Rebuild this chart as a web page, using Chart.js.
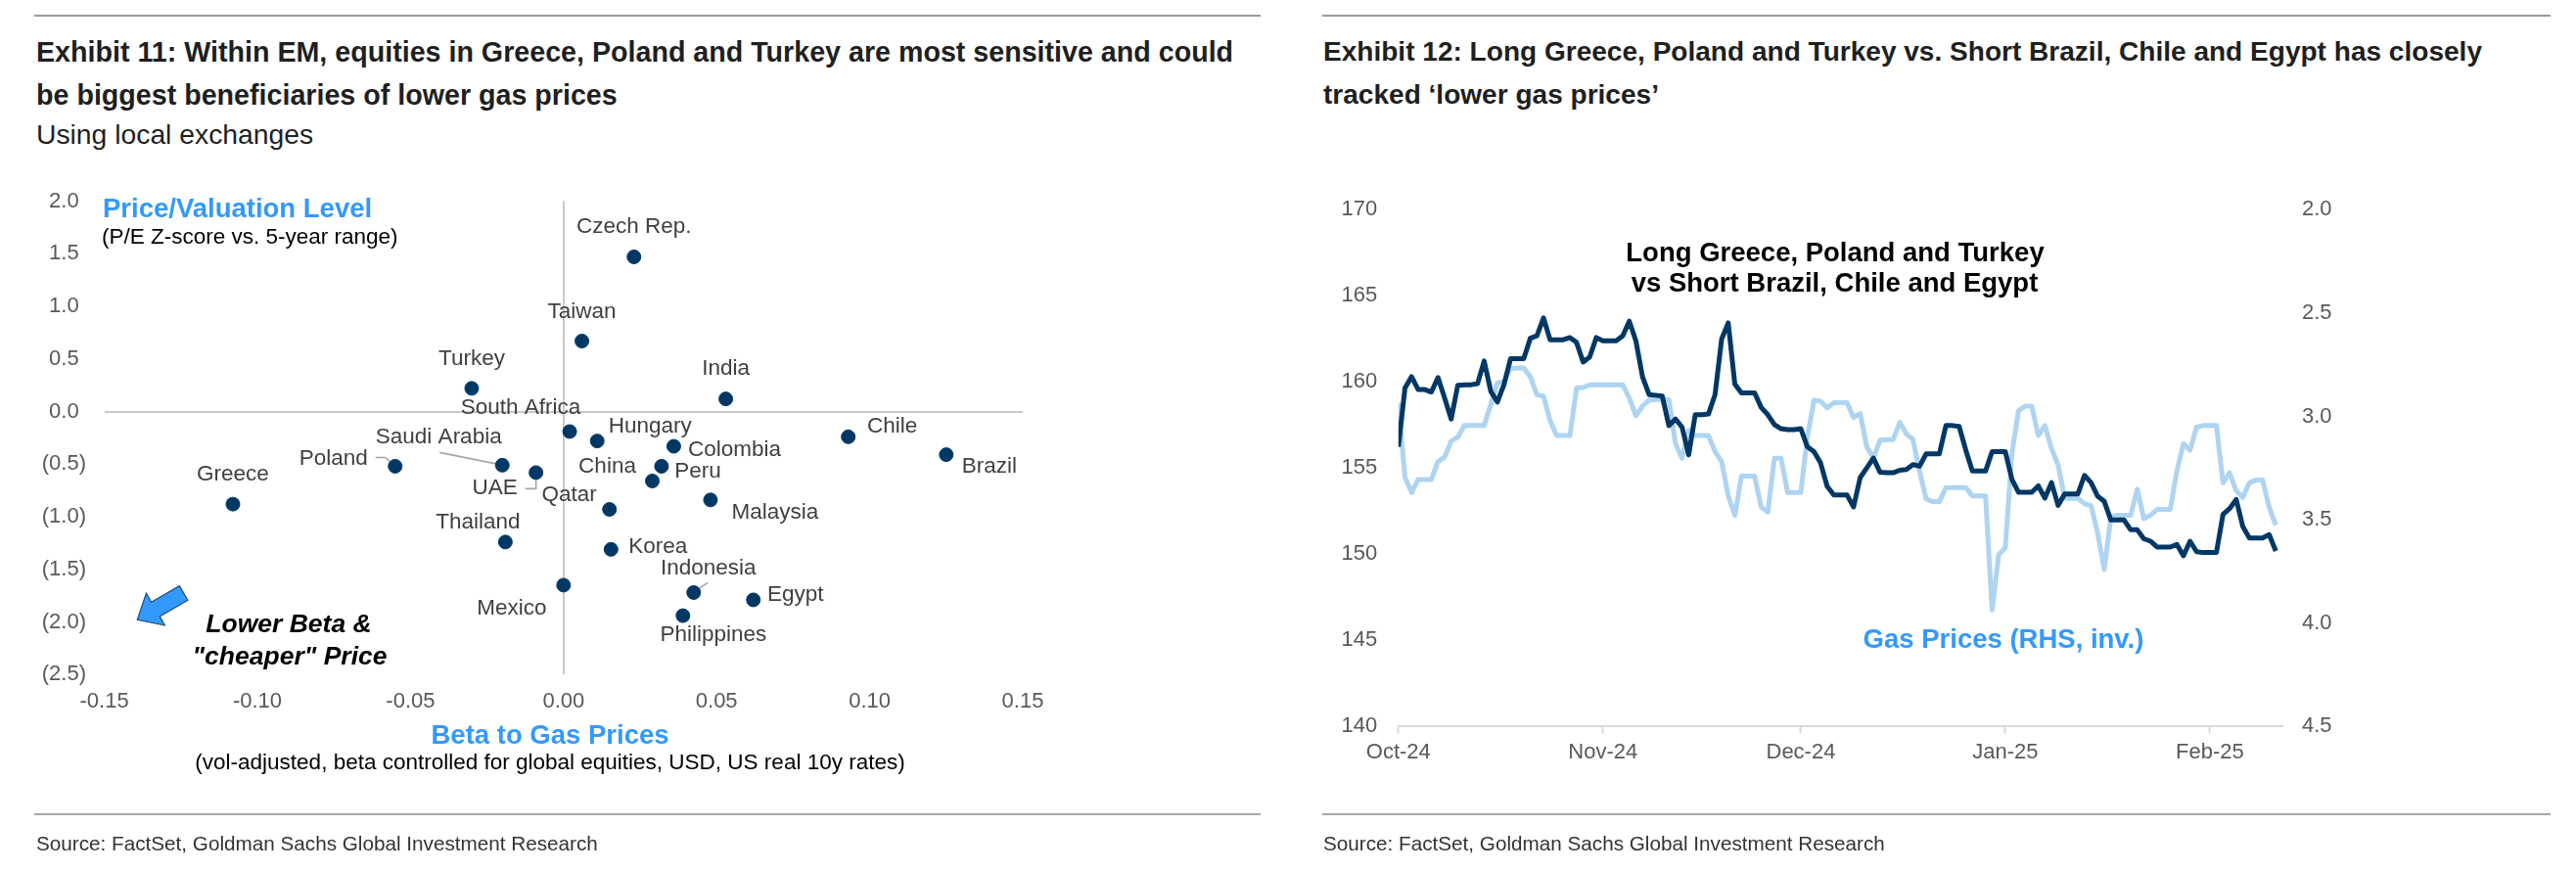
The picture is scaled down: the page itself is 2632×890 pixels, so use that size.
<!DOCTYPE html>
<html><head><meta charset="utf-8">
<script src="https://cdn.jsdelivr.net/npm/chart.js@4.4.1/dist/chart.umd.min.js"></script>
<style>
html,body{margin:0;padding:0;background:#fff;}
body{width:2632px;height:890px;position:relative;overflow:hidden;font-family:"Liberation Sans",Arial,sans-serif;}
.rule{position:absolute;height:2px;background:#9a9a9a;}
.title{position:absolute;font-weight:bold;font-size:28.3px;line-height:44px;color:#1f1f1f;white-space:nowrap;}
.sub{position:absolute;font-size:28px;line-height:36px;color:#1f1f1f;white-space:nowrap;}
.src{position:absolute;font-size:20.7px;line-height:30px;color:#333;white-space:nowrap;}
canvas{position:absolute;top:0;}
</style></head><body>
<div class="rule" style="left:35px;top:15px;width:1253px;"></div>
<div class="rule" style="left:1351px;top:15px;width:1255px;"></div>
<div class="title" style="left:37px;top:31px;font-size:28.65px;">Exhibit 11: Within EM, equities in Greece, Poland and Turkey are most sensitive and could<br>be biggest beneficiaries of lower gas prices</div>
<div class="sub" style="left:37px;top:119px;font-size:28.3px;">Using local exchanges</div>
<div class="title" style="left:1352px;top:31px;font-size:28.05px;">Exhibit 12: Long Greece, Poland and Turkey vs. Short Brazil, Chile and Egypt has closely<br>tracked ‘lower gas prices’</div>
<canvas id="c1" width="1316" height="890" style="left:0;width:1316px;height:890px;"></canvas>
<canvas id="c2" width="1316" height="890" style="left:1316px;width:1316px;height:890px;"></canvas>
<div class="rule" style="left:35px;top:831px;width:1253px;background:#a8a8a8;"></div>
<div class="rule" style="left:1351px;top:831px;width:1255px;background:#a8a8a8;"></div>
<div class="src" style="left:37px;top:847px;">Source: FactSet, Goldman Sachs Global Investment Research</div>
<div class="src" style="left:1352px;top:847px;">Source: FactSet, Goldman Sachs Global Investment Research</div>
<script>
// ---------- Exhibit 11 data ----------
const countries = ['Czech Rep.','Taiwan','Turkey','India','Greece','South Africa','Hungary','China','Colombia','Peru','Chile','Brazil','Malaysia','Qatar','Thailand','Korea','Mexico','Philippines','Egypt','Indonesia','Saudi Arabia','Poland','UAE'];
const betaToGas = [0.023,0.006,-0.030,0.053,-0.108,0.002,0.011,0.029,0.036,0.032,0.093,0.125,0.048,0.015,-0.019,0.0155,0.000,0.039,0.062,0.0425,-0.020,-0.055,-0.009];
const peZScore = [1.47,0.67,0.22,0.12,-0.88,-0.19,-0.28,-0.66,-0.33,-0.52,-0.24,-0.41,-0.84,-0.93,-1.24,-1.31,-1.65,-1.94,-1.79,-1.72,-0.51,-0.52,-0.58];
const scatterXTicks = [-0.15,-0.10,-0.05,0,0.05,0.10,0.15];
const scatterXTickLabels = ['-0.15','-0.10','-0.05','0.00','0.05','0.10','0.15'];
const scatterYTicks = [-2.5,-2,-1.5,-1,-0.5,0,0.5,1,1.5,2];
const scatterYTickLabels = ['(2.5)','(2.0)','(1.5)','(1.0)','(0.5)','0.0','0.5','1.0','1.5','2.0'];

// ---------- Exhibit 12 data (daily, day 0 = 1 Oct 2024) ----------
const seriesStartDate = '2024-10-01';
const longShortBasket = [156.24,159.65,160.31,159.56,159.56,159.42,160.26,159.08,157.85,159.80,
159.84,159.84,159.90,161.22,159.46,158.84,159.84,161.35,161.35,161.35,
162.54,162.68,163.72,162.45,162.45,162.45,162.58,162.30,161.16,161.45,
162.58,162.39,162.39,162.39,162.68,163.53,162.39,160.31,159.27,159.23,
159.18,157.47,157.85,157.38,155.77,158.10,158.10,158.14,159.27,162.49,
163.43,159.88,159.37,159.37,159.37,158.52,158.10,157.53,157.29,157.23,
157.23,157.29,156.24,155.96,155.30,153.94,153.44,153.44,153.44,152.75,
154.45,155.01,155.58,154.77,154.73,154.73,154.88,154.92,155.21,155.11,
155.83,155.83,155.83,157.47,157.47,157.42,156.06,154.83,154.83,154.83,
155.96,155.96,155.96,154.35,153.60,153.60,153.60,153.97,153.26,154.16,
152.84,153.50,153.50,153.50,154.58,154.16,153.37,153.07,151.99,151.99,
151.99,151.42,151.42,150.90,150.76,150.42,150.42,150.42,150.57,149.91,
150.76,150.15,150.10,150.10,150.10,152.31,152.65,153.18,151.61,150.95,
150.95,150.95,151.14,150.19];
const gasPrices = [2.934,3.294,3.368,3.305,3.305,3.305,3.218,3.197,3.119,3.100,
3.044,3.044,3.044,3.044,2.942,2.839,2.831,2.768,2.765,2.765,
2.808,2.895,2.902,3.021,3.092,3.092,3.092,2.863,2.860,2.847,
2.847,2.847,2.847,2.847,2.847,2.910,2.997,2.950,2.921,2.918,
2.918,2.918,3.131,3.202,3.068,3.092,3.092,3.092,3.171,3.218,
3.384,3.478,3.289,3.289,3.289,3.439,3.463,3.202,3.202,3.368,
3.368,3.368,3.100,2.921,2.926,2.958,2.934,2.934,2.934,3.005,
2.986,3.147,3.202,3.115,3.112,3.112,3.029,3.084,3.112,3.265,
3.399,3.412,3.412,3.344,3.344,3.344,3.344,3.384,3.384,3.384,
3.936,3.668,3.636,3.179,2.973,2.950,2.950,3.092,3.044,3.155,
3.234,3.396,3.396,3.396,3.423,3.431,3.565,3.740,3.486,3.478,
3.478,3.478,3.352,3.494,3.478,3.450,3.450,3.450,3.265,3.131,
3.163,3.052,3.044,3.044,3.044,3.321,3.273,3.360,3.392,3.321,
3.308,3.308,3.439,3.526];
const monthTickDays = [0,31,61,92,123];
const monthTickLabels = ['Oct-24','Nov-24','Dec-24','Jan-25','Feb-25'];
const basketYTicks = [140,145,150,155,160,165,170];
const basketYTickLabels = ['140','145','150','155','160','165','170'];
const gasYTicks = [2.0,2.5,3.0,3.5,4.0,4.5];
const gasYTickLabels = ['2.0','2.5','3.0','3.5','4.0','4.5'];

// ---------- styling ----------
const FONT = '"Liberation Sans", Arial, sans-serif';
const NAVY = '#003865';
const LIGHT = '#AED4F1';
const BRIGHT = '#3399FF';
const TICK = '#595959';
Chart.defaults.font.family = FONT;
Chart.defaults.animation = false;

const labelOffsets = {
  'Czech Rep.':[0,-31],'Taiwan':[0,-30],'Turkey':[0,-30],'India':[0,-31],'Greece':[0,-30],
  'South Africa':[-50,-24],'Hungary':[54,-15],'China':[-46,-15],'Colombia':[62,4],'Peru':[37,5],
  'Chile':[45,-11],'Brazil':[44,12],'Malaysia':[66,13],'Qatar':[-41,-15],'Thailand':[-28,-20],
  'Korea':[48,-3],'Mexico':[-53,24],'Philippines':[31,20],'Egypt':[43,-5],'Indonesia':[15,-25],
  'Saudi Arabia':[-65,-29],'Poland':[-63,-8],'UAE':[-42,16]
};
const leaders = {
  'Poland':[[-20,-9],[-10,-9],[-2,-2]],
  'Saudi Arabia':[[-64,-13],[-4,-1]],
  'UAE':[[-11,16.5],[0,16.5],[0,6]],
  'Indonesia':[[14.5,-10],[2,-2]]
};

const scatterDecor = {
  id:'scatterDecor',
  beforeDatasetsDraw(chart){
    const ctx = chart.ctx, meta = chart.getDatasetMeta(0);
    ctx.save();
    ctx.strokeStyle = '#A6A6A6'; ctx.lineWidth = 1.6;
    meta.data.forEach((pt,i)=>{
      const l = leaders[countries[i]]; if(!l) return;
      ctx.beginPath();
      l.forEach((p,j)=>{ if(j===0) ctx.moveTo(pt.x+p[0],pt.y+p[1]); else ctx.lineTo(pt.x+p[0],pt.y+p[1]); });
      ctx.stroke();
    });
    ctx.restore();
  },
  afterDatasetsDraw(chart){
    const ctx = chart.ctx, meta = chart.getDatasetMeta(0);
    ctx.save();
    ctx.textBaseline = 'middle';
    ctx.font = '22.5px '+FONT; ctx.fillStyle = '#404040'; ctx.textAlign = 'center';
    meta.data.forEach((pt,i)=>{
      const o = labelOffsets[countries[i]];
      ctx.fillText(countries[i], pt.x+o[0], pt.y+o[1]);
    });
    // axis titles
    ctx.textAlign = 'left';
    ctx.font = 'bold 27.5px '+FONT; ctx.fillStyle = BRIGHT;
    ctx.fillText('Price/Valuation Level', 105, 214);
    ctx.font = '22.5px '+FONT; ctx.fillStyle = '#000';
    ctx.fillText('(P/E Z-score vs. 5-year range)', 104, 243);
    ctx.textAlign = 'center';
    ctx.font = 'bold 27.5px '+FONT; ctx.fillStyle = BRIGHT;
    ctx.fillText('Beta to Gas Prices', 562, 752);
    ctx.font = '22.5px '+FONT; ctx.fillStyle = '#000';
    ctx.fillText('(vol-adjusted, beta controlled for global equities, USD, US real 10y rates)', 562, 780);
    ctx.font = 'italic bold 26.5px '+FONT; ctx.fillStyle = '#000';
    ctx.fillText('Lower Beta &', 295, 639);
    ctx.fillText('"cheaper" Price', 296, 672);
    // arrow pointing down-left
    const T = [140.3,633.3], u = [-0.866,0.5], n = [0.5,0.866];
    const P = (a,b)=>[T[0]-u[0]*a+n[0]*b, T[1]-u[1]*a+n[1]*b];
    const pts = [P(0,0),P(21.5,-19),P(21.5,-8.5),P(54.6,-8.5),P(54.6,8.5),P(21.5,8.5),P(21.5,19)];
    ctx.beginPath();
    pts.forEach((p,i)=> i? ctx.lineTo(p[0],p[1]) : ctx.moveTo(p[0],p[1]));
    ctx.closePath();
    ctx.fillStyle = BRIGHT; ctx.fill();
    ctx.strokeStyle = '#1F4E79'; ctx.lineWidth = 1.2; ctx.stroke();
    ctx.restore();
  }
};

new Chart(document.getElementById('c1'), {
  type:'scatter',
  data:{ datasets:[{
    data: countries.map((c,i)=>({x:betaToGas[i], y:peZScore[i]})),
    backgroundColor: NAVY, borderColor: NAVY, pointRadius: 7, pointHoverRadius: 7
  }]},
  options:{
    responsive:false, devicePixelRatio:1,
    layout:{padding:{left:0,right:271,top:205.5,bottom:140.7}},
    plugins:{legend:{display:false},tooltip:{enabled:false}},
    events:[],
    scales:{
      x:{ type:'linear', min:-0.15, max:0.15,
        afterBuildTicks(s){ s.ticks = scatterXTicks.map(v=>({value:v})); },
        afterFit(s){ s.height = 60; },
        border:{display:false},
        grid:{ drawTicks:false, lineWidth:2,
          color:(c)=> (c.tick && Math.abs(c.tick.value)<1e-9) ? '#C9C9C9' : 'rgba(0,0,0,0)' },
        ticks:{ padding:14, color:TICK, font:{size:22}, maxRotation:0,
          callback:(v,i)=>scatterXTickLabels[i] }
      },
      y:{ type:'linear', min:-2.5, max:2.0,
        afterBuildTicks(s){ s.ticks = scatterYTicks.map(v=>({value:v})); },
        afterFit(s){ s.width = 106.6; },
        border:{display:false},
        grid:{ drawTicks:false, lineWidth:2,
          color:(c)=> (c.tick && Math.abs(c.tick.value)<1e-9) ? '#C9C9C9' : 'rgba(0,0,0,0)' },
        ticks:{ padding:18.6, crossAlign:'center', color:TICK, font:{size:22},
          callback:(v,i)=>scatterYTickLabels[i] }
      }
    }
  },
  plugins:[scatterDecor]
});

const lineDecor = {
  id:'lineDecor',
  afterDatasetsDraw(chart){
    const ctx = chart.ctx;
    ctx.save();
    ctx.textAlign='center'; ctx.textBaseline='middle';
    ctx.font = 'bold 27.5px '+FONT; ctx.fillStyle = '#000';
    ctx.fillText('Long Greece, Poland and Turkey', 559, 259);
    ctx.fillText('vs Short Brazil, Chile and Egypt', 558.5, 290);
    ctx.fillStyle = BRIGHT;
    ctx.fillText('Gas Prices (RHS, inv.)', 731, 654);
    ctx.restore();
  }
};

new Chart(document.getElementById('c2'), {
  type:'line',
  data:{ datasets:[
    { label:'Long Greece, Poland and Turkey vs Short Brazil, Chile and Egypt',
      data: longShortBasket.map((v,i)=>({x:i,y:v})), yAxisID:'y',
      borderColor:NAVY, borderWidth:5, pointRadius:0, borderJoinStyle:'round', order:1 },
    { label:'Gas Prices (RHS, inv.)',
      data: gasPrices.map((v,i)=>({x:i,y:v})), yAxisID:'y1',
      borderColor:LIGHT, borderWidth:5, pointRadius:0, borderJoinStyle:'round', order:2 }
  ]},
  options:{
    responsive:false, devicePixelRatio:1,
    layout:{padding:{left:0,right:200,top:214.3,bottom:87.6}},
    plugins:{legend:{display:false},tooltip:{enabled:false}},
    events:[],
    scales:{
      x:{ type:'linear', min:0, max:134,
        afterBuildTicks(s){ s.ticks = monthTickDays.map(v=>({value:v})); },
        afterFit(s){ s.height = 60; },
        border:{display:true, color:'#D9D9D9', width:2},
        grid:{ drawOnChartArea:false, drawTicks:true, tickLength:7, tickColor:'#D9D9D9', tickWidth:2 },
        ticks:{ padding:6, color:TICK, font:{size:22}, maxRotation:0, autoSkip:false,
          callback:(v,i)=>monthTickLabels[i] }
      },
      y:{ type:'linear', position:'left', min:140, max:170,
        afterBuildTicks(s){ s.ticks = basketYTicks.map(v=>({value:v})); },
        afterFit(s){ s.width = 112.8; },
        border:{display:false}, grid:{display:false, drawTicks:false},
        ticks:{ padding:21.5, color:TICK, font:{size:22}, callback:(v,i)=>basketYTickLabels[i] }
      },
      y1:{ type:'linear', position:'right', reverse:true, min:2.0, max:4.5,
        afterBuildTicks(s){ s.ticks = gasYTicks.map(v=>({value:v})); },
        afterFit(s){ s.width = 100; },
        border:{display:false}, grid:{display:false, drawTicks:false},
        ticks:{ padding:20, color:TICK, font:{size:22}, callback:(v,i)=>gasYTickLabels[i] }
      }
    }
  },
  plugins:[lineDecor]
});
</script>
</body></html>
